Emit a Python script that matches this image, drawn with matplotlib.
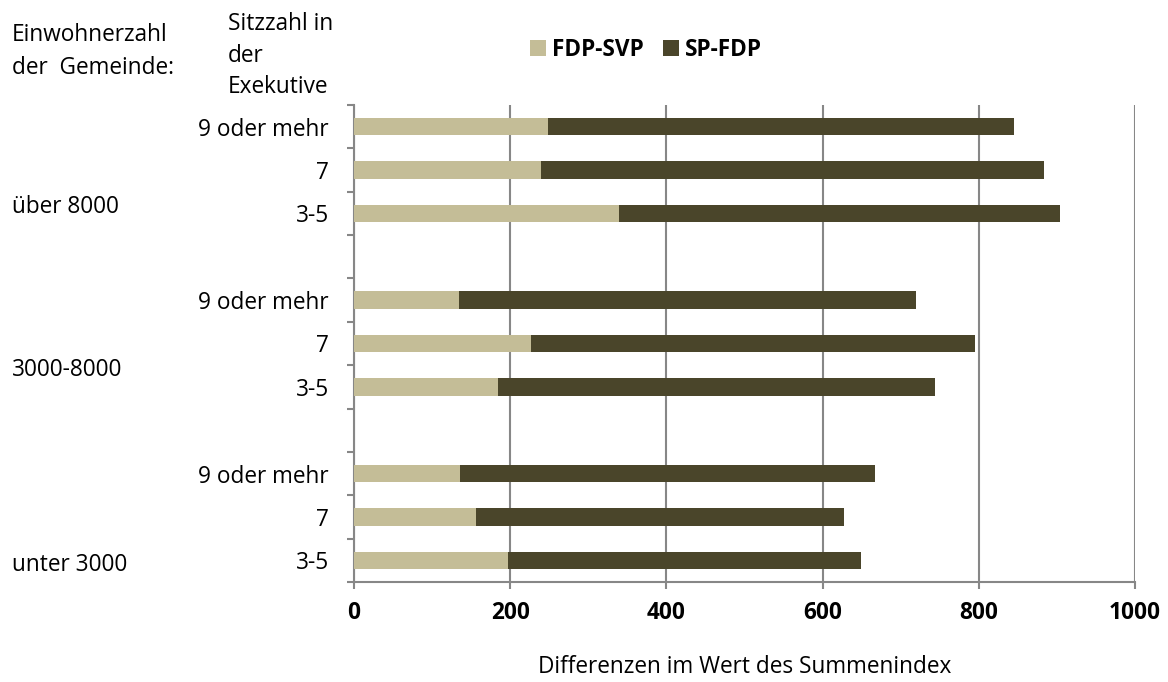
import numpy as np
import matplotlib
matplotlib.use("Agg")
import matplotlib.pyplot as plt

plt.rcParams['font.family'] = ['Open Sans', 'DejaVu Sans']

# data, bottom to top (empty slot between the groups)
groups = ["unter 3000", "3000-8000", "über 8000"]
seats = ["3-5", "7", "9 oder mehr"]
fdp_svp = [197, 156, 136, 184, 226, 134, 339, 240, 249]
sp_fdp = [452, 472, 531, 560, 569, 585, 565, 643, 596]
xticks = [0, 200, 400, 600, 800, 1000]

light = "#C4BD97"
dark = "#4A452A"
grey = "#878787"
fs = 16.3

# slot positions: 3 bars per group, one empty slot in between
ypos = []
for g in range(len(groups)):
    for s in range(len(seats)):
        ypos.append(g * (len(seats) + 1) + s)
ypos = np.array(ypos)
ylabels = seats * len(groups)

fig = plt.figure(figsize=(11.68, 6.82), dpi=100)
ax = fig.add_axes([354 / 1168, 1 - 582 / 682, (1135 - 354) / 1168, (582 - 105) / 682])

ax.barh(ypos, fdp_svp, height=0.4, color=light, label="FDP-SVP", zorder=3)
ax.barh(ypos, sp_fdp, left=fdp_svp, height=0.4, color=dark, label="SP-FDP", zorder=3)

ax.set_xlim(0, 1000)
ax.set_ylim(-0.5, ypos.max() + 0.5)
ax.set_xticks(xticks)
ax.set_xticklabels([str(v) for v in xticks], fontweight="bold", fontsize=fs)
ax.set_yticks(ypos)
ax.set_yticklabels(ylabels, fontsize=fs)
ax.set_yticks(np.arange(-0.5, ypos.max() + 1, 1), minor=True)

ax.tick_params(axis="y", which="major", length=0, pad=18)
ax.tick_params(axis="y", which="minor", length=5, width=1.5, color=grey, direction="out")
ax.tick_params(axis="x", which="major", length=5, width=1.5, color=grey, direction="out", pad=9)

ax.grid(axis="x", color=grey, linewidth=1.5, zorder=0)
for side in ["top", "right"]:
    ax.spines[side].set_visible(False)
for side in ["left", "bottom"]:
    ax.spines[side].set_color(grey)
    ax.spines[side].set_linewidth(1.5)

ax.set_xlabel("Differenzen im Wert des Summenindex", fontsize=fs, labelpad=21)

# group labels at the left
def px(x, y):
    return x / 1168, 1 - y / 682

group_y = [571, 376, 213]
for name, yb in zip(groups, group_y):
    fig.text(*px(12, yb), name, fontsize=fs, va="baseline", ha="left")

fig.text(*px(12, 41), "Einwohnerzahl", fontsize=fs, va="baseline")
fig.text(*px(12, 74), "der  Gemeinde:", fontsize=fs, va="baseline")
fig.text(*px(228, 30), "Sitzzahl in", fontsize=fs, va="baseline")
fig.text(*px(228, 62), "der", fontsize=fs, va="baseline")
fig.text(*px(228, 93), "Exekutive", fontsize=fs, va="baseline")

fig.legend(loc="center", bbox_to_anchor=px(646, 50), ncol=2, frameon=False,
           prop={"weight": "bold", "size": fs}, handlelength=0.7, handleheight=0.7,
           handletextpad=0.25, columnspacing=0.85)

fig.savefig("out.png", dpi=100)
